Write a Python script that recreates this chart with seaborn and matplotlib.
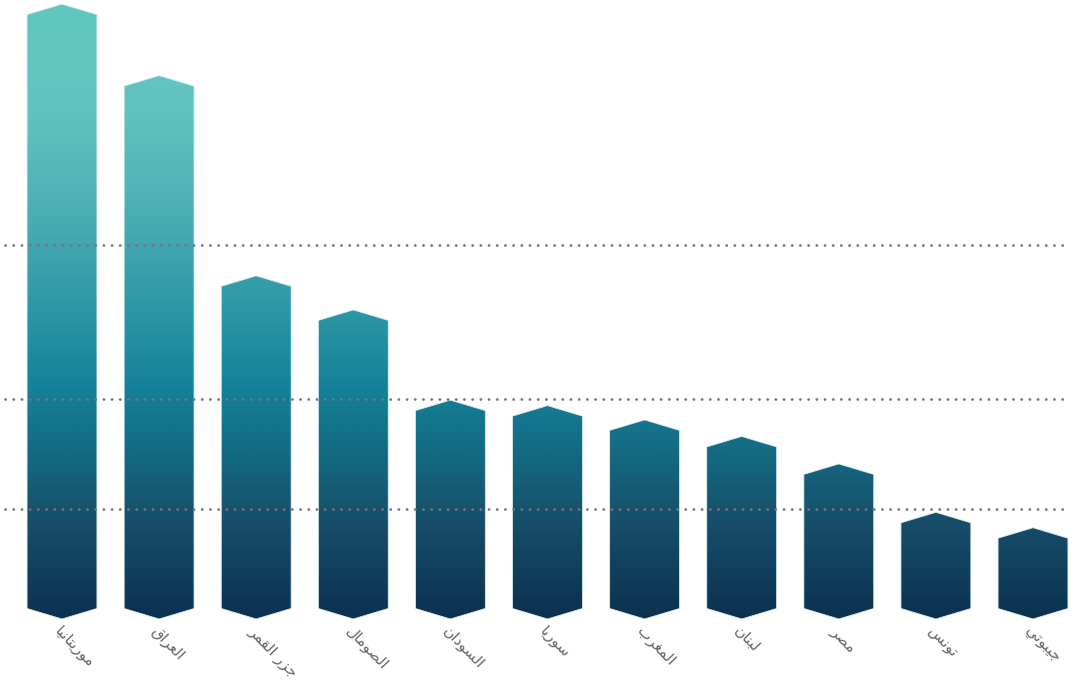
import numpy as np
import matplotlib
matplotlib.use('Agg')
import matplotlib.pyplot as plt
import matplotlib.transforms as mtransforms
from matplotlib.colors import LinearSegmentedColormap
from matplotlib.patches import Polygon
import seaborn as sns

sns.set_style('white')
plt.rcParams['font.family'] = ['DejaVu Sans']

# ---- data -------------------------------------------------------------
countries = ['موريتانيا', 'العراق', 'جزر القمر', 'الصومال', 'السودان', 'سوريا',
             'المغرب', 'لبنان', 'مصر', 'تونس', 'جيبوتي']
values = [27.95, 24.7, 15.6, 14.05, 9.95, 9.7, 9.05, 8.3, 7.05, 4.85, 4.15]
grid_values = [5, 10, 17]

# vertical colour ramp (top -> bottom)
grad_stops = [0.0, 0.18, 0.33, 0.49, 0.62, 0.73, 0.84, 1.0]
grad_colors = ['#63c7c1', '#60c3bf', '#4eb0b4', '#2e98a7', '#14839a',
               '#146a83', '#174f6b', '#0b3150']

# ---- arabic shaping (matplotlib does no joining / bidi) ----------------
FORMS = {
    'ا': ('\uFE8D', '\uFE8E', None, None),
    'ب': ('\uFE8F', '\uFE90', '\uFE91', '\uFE92'),
    'ت': ('\uFE95', '\uFE96', '\uFE97', '\uFE98'),
    'ج': ('\uFE9D', '\uFE9E', '\uFE9F', '\uFEA0'),
    'د': ('\uFEA9', '\uFEAA', None, None),
    'ر': ('\uFEAD', '\uFEAE', None, None),
    'ز': ('\uFEAF', '\uFEB0', None, None),
    'س': ('\uFEB1', '\uFEB2', '\uFEB3', '\uFEB4'),
    'ص': ('\uFEB9', '\uFEBA', '\uFEBB', '\uFEBC'),
    'ع': ('\uFEC9', '\uFECA', '\uFECB', '\uFECC'),
    'غ': ('\uFECD', '\uFECE', '\uFECF', '\uFED0'),
    'ق': ('\uFED5', '\uFED6', '\uFED7', '\uFED8'),
    'ل': ('\uFEDD', '\uFEDE', '\uFEDF', '\uFEE0'),
    'م': ('\uFEE1', '\uFEE2', '\uFEE3', '\uFEE4'),
    'ن': ('\uFEE5', '\uFEE6', '\uFEE7', '\uFEE8'),
    'و': ('\uFEED', '\uFEEE', None, None),
    'ي': ('\uFEF1', '\uFEF2', '\uFEF3', '\uFEF4'),
}


def shape(txt):
    out = []
    for i, ch in enumerate(txt):
        if ch not in FORMS:
            out.append(ch)
            continue
        prev = txt[i - 1] if i > 0 else None
        nxt = txt[i + 1] if i + 1 < len(txt) else None
        iso, fin, ini, med = FORMS[ch]
        j_prev = prev in FORMS and FORMS[prev][2] is not None
        j_next = nxt in FORMS and ini is not None
        if j_prev and j_next:
            out.append(med)
        elif j_prev:
            out.append(fin)
        elif j_next:
            out.append(ini)
        else:
            out.append(iso)
    return ''.join(reversed(out))


# ---- figure -------------------------------------------------------------
W, H = 1074, 681
fig = plt.figure(figsize=(W / 100, H / 100), dpi=100)
base_px = 619
ax = fig.add_axes([0, (H - base_px) / H, 1, base_px / H])

sns.barplot(x=countries, y=values, width=0.72, color='#14839a', ax=ax)

spacing = 97.1
x_lo = -62 / spacing
x_hi = x_lo + W / spacing
y_top = base_px / 22.0
ax.set_xlim(x_lo, x_hi)
ax.set_ylim(0, y_top)

# point depth of the hexagon ends, ~10.5 px
d = 10.5 * y_top / base_px

cmap = LinearSegmentedColormap.from_list('g', list(zip(grad_stops, grad_colors)))
ramp = np.linspace(0, 1, 512).reshape(-1, 1)

for p in list(ax.patches):
    x0, w, h = p.get_x(), p.get_width(), p.get_height()
    p.set_visible(False)
    c = x0 + w / 2
    pts = [(x0, d), (c, 0), (x0 + w, d), (x0 + w, h - d), (c, h), (x0, h - d)]
    poly = Polygon(pts, closed=True, facecolor='none', edgecolor='none')
    ax.add_patch(poly)
    im = ax.imshow(ramp, cmap=cmap, aspect='auto', origin='upper',
                   extent=[x_lo, x_hi, 0, y_top], zorder=2, interpolation='bilinear')
    im.set_clip_path(poly)
    ax.add_patch(Polygon(pts, closed=True, facecolor='none',
                         edgecolor='#d8ecef', linewidth=0.6, zorder=3))

ax.set_xlim(x_lo, x_hi)
ax.set_ylim(0, y_top)

for g in grid_values:
    ax.axhline(g, xmin=5 / W, xmax=1070 / W, color='#777777', linewidth=2.0,
               linestyle=(0, (0.05, 2.9)), dash_capstyle='round', zorder=5)

ax.set_yticks([])
ax.set_xticks(range(len(countries)))
ax.set_xticklabels([shape(c) for c in countries], rotation=-46, ha='left',
                   va='top', rotation_mode='anchor', fontsize=11, color='#666666')
shift = mtransforms.ScaledTranslation(2 / 100, 0, fig.dpi_scale_trans)
for lbl in ax.get_xticklabels():
    lbl.set_transform(lbl.get_transform() + shift)
ax.tick_params(axis='x', length=0, pad=3)
for s in ax.spines.values():
    s.set_visible(False)

fig.savefig('out.png', dpi=100)
